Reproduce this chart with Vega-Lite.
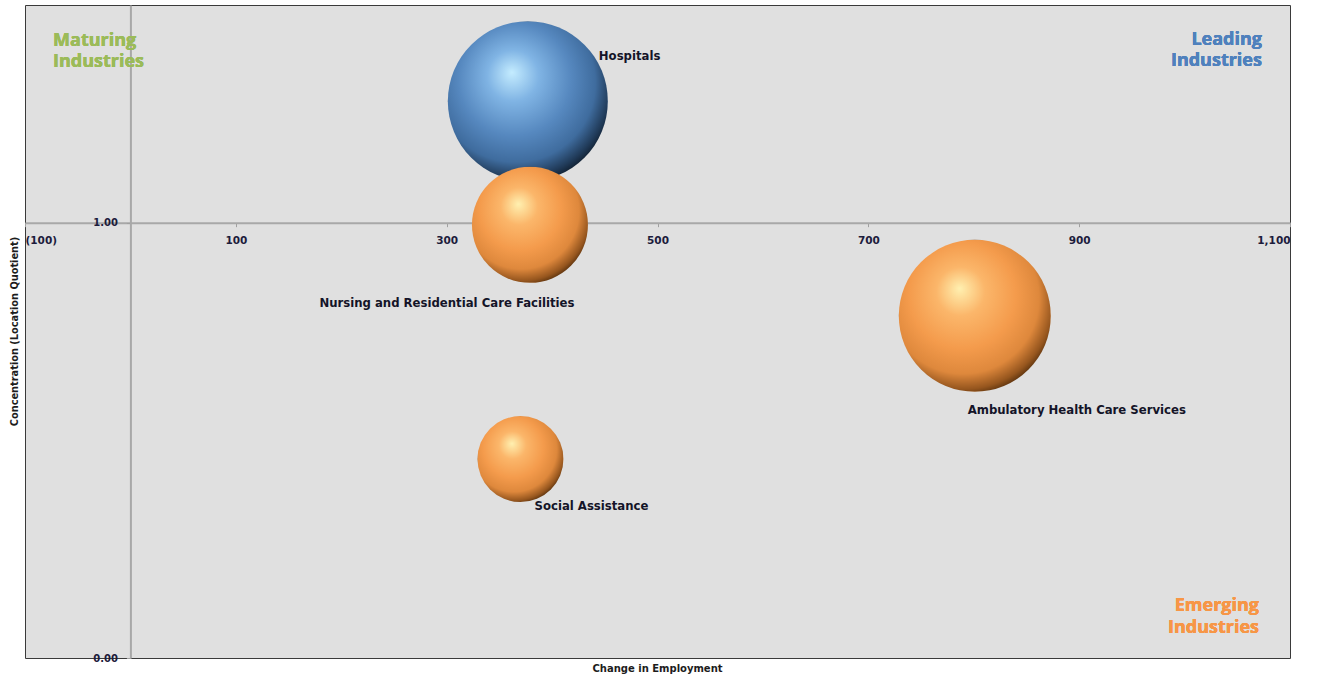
{
  "$schema": "https://vega.github.io/schema/vega-lite/v6.json",
  "width": 1265,
  "height": 653,
  "autosize": {"type": "none"},
  "padding": {"left": 25, "top": 5, "right": 27, "bottom": 21},
  "background": "#ffffff",
  "config": {
    "view": {"fill": "#e0e0e0", "stroke": "#3a3a3a", "strokeWidth": 1},
    "font": "DejaVu Sans"
  },
  "data": {
    "values": [
      {"industry": "Hospitals", "change": 377, "lq": 1.279, "employment": 6400, "quadrant": "Leading"},
      {"industry": "Nursing and Residential Care Facilities", "change": 379, "lq": 0.995, "employment": 3364, "quadrant": "Emerging"},
      {"industry": "Ambulatory Health Care Services", "change": 801, "lq": 0.786, "employment": 5776, "quadrant": "Emerging"},
      {"industry": "Social Assistance", "change": 370, "lq": 0.457, "employment": 1849, "quadrant": "Emerging"}
    ]
  },
  "encoding": {
    "x": {
      "field": "change", "type": "quantitative",
      "scale": {"domain": [-100, 1100], "nice": false, "zero": false},
      "axis": {
        "title": "Change in Employment",
        "values": [-100, 100, 300, 500, 700, 900, 1100],
        "labelExpr": "datum.value < 0 ? '(' + format(-datum.value, ',') + ')' : format(datum.value, ',')",
        "offset": -435.33,
        "grid": false,
        "domainColor": "#a8a8a8", "domainWidth": 2,
        "tickColor": "#a0a0a0", "tickSize": 4,
        "labelFont": "DejaVu Sans", "labelFontWeight": "bold", "labelFontSize": 10.5,
        "labelColor": "#1c1c3c", "labelPadding": 9,
        "titleFont": "DejaVu Sans", "titleFontWeight": "bold", "titleFontSize": 10,
        "titleColor": "#1c1c1c",
        "titleX": 632, "titleY": 446, "titleBaseline": "middle", "titleAnchor": null
      }
    },
    "y": {
      "field": "lq", "type": "quantitative",
      "scale": {"domain": [0, 1.5], "nice": false, "zero": true},
      "axis": {
        "title": "Concentration (Location Quotient)",
        "values": [0, 1],
        "format": ".2f",
        "offset": -105.4,
        "grid": false,
        "domainColor": "#a8a8a8", "domainWidth": 2,
        "tickColor": "#a0a0a0", "tickSize": 4,
        "labelFont": "DejaVu Sans", "labelFontWeight": "bold", "labelFontSize": 10,
        "labelColor": "#1c1c3c", "labelPadding": 9,
        "titleFont": "DejaVu Sans", "titleFontWeight": "bold", "titleFontSize": 9.8,
        "titleColor": "#1c1c1c",
        "titleX": -116, "titleY": 326, "titleAngle": -90, "titleBaseline": "middle", "titleAlign": "center"
      }
    }
  },
  "layer": [
    {
      "transform": [{"filter": "datum.quadrant === 'Leading'"}],
      "mark": {
        "type": "circle", "opacity": 1,
        "color": {
          "gradient": "radial", "x1": 0.4, "y1": 0.32, "r1": 0, "x2": 0.43, "y2": 0.4, "r2": 0.64,
          "stops": [
            {"offset": 0, "color": "#c4ecff"},
            {"offset": 0.25, "color": "#80b4e4"},
            {"offset": 0.55, "color": "#5688bf"},
            {"offset": 0.78, "color": "#3f6c9e"},
            {"offset": 0.92, "color": "#203a58"},
            {"offset": 1, "color": "#0e1a28"}
          ]
        }
      },
      "encoding": {
        "size": {"field": "employment", "type": "quantitative", "legend": null,
          "scale": {"domain": [0, 6400], "range": [0, 25600], "zero": true}}
      }
    },
    {
      "transform": [{"filter": "datum.quadrant === 'Emerging'"}],
      "mark": {
        "type": "circle", "opacity": 1,
        "color": {
          "gradient": "radial", "x1": 0.4, "y1": 0.32, "r1": 0, "x2": 0.43, "y2": 0.4, "r2": 0.64,
          "stops": [
            {"offset": 0, "color": "#fff0b0"},
            {"offset": 0.25, "color": "#fbb66a"},
            {"offset": 0.55, "color": "#f49b4c"},
            {"offset": 0.78, "color": "#de883c"},
            {"offset": 0.92, "color": "#96561e"},
            {"offset": 1, "color": "#4e2a0a"}
          ]
        }
      },
      "encoding": {
        "size": {"field": "employment", "type": "quantitative", "legend": null,
          "scale": {"domain": [0, 6400], "range": [0, 25600], "zero": true}}
      }
    },
    {
      "transform": [{"filter": "datum.industry === 'Hospitals'"}],
      "mark": {"type": "text", "align": "left", "baseline": "middle", "dx": 71, "dy": -45,
        "font": "DejaVu Sans", "fontWeight": "bold", "fontSize": 11.7, "color": "#141428"},
      "encoding": {"text": {"field": "industry"}}
    },
    {
      "transform": [{"filter": "datum.industry === 'Nursing and Residential Care Facilities'"}],
      "mark": {"type": "text", "align": "center", "baseline": "middle", "dx": -83, "dy": 78,
        "font": "DejaVu Sans", "fontWeight": "bold", "fontSize": 11.7, "color": "#141428"},
      "encoding": {"text": {"field": "industry"}}
    },
    {
      "transform": [{"filter": "datum.industry === 'Ambulatory Health Care Services'"}],
      "mark": {"type": "text", "align": "center", "baseline": "middle", "dx": 102, "dy": 94,
        "font": "DejaVu Sans", "fontWeight": "bold", "fontSize": 11.7, "color": "#141428"},
      "encoding": {"text": {"field": "industry"}}
    },
    {
      "transform": [{"filter": "datum.industry === 'Social Assistance'"}],
      "mark": {"type": "text", "align": "center", "baseline": "middle", "dx": 71, "dy": 47,
        "font": "DejaVu Sans", "fontWeight": "bold", "fontSize": 11.7, "color": "#141428"},
      "encoding": {"text": {"field": "industry"}}
    },
    {
      "mark": {"type": "text", "align": "left", "baseline": "alphabetic", "lineBreak": "\n", "lineHeight": 21,
        "font": "Open Sans", "fontWeight": "bold", "fontSize": 18, "color": "#9bbb59"},
      "encoding": {
        "x": {"datum": -73.4, "type": "quantitative"},
        "y": {"datum": 1.406, "type": "quantitative"},
        "text": {"value": "Maturing\nIndustries"}
      }
    },
    {
      "mark": {"type": "text", "align": "right", "baseline": "alphabetic", "lineBreak": "\n", "lineHeight": 21,
        "font": "Open Sans", "fontWeight": "bold", "fontSize": 18, "color": "#4f81bd"},
      "encoding": {
        "x": {"datum": 1073.4, "type": "quantitative"},
        "y": {"datum": 1.408, "type": "quantitative"},
        "text": {"value": "Leading\nIndustries"}
      }
    },
    {
      "mark": {"type": "text", "align": "right", "baseline": "alphabetic", "lineBreak": "\n", "lineHeight": 22,
        "font": "Open Sans", "fontWeight": "bold", "fontSize": 18, "color": "#f79646"},
      "encoding": {
        "x": {"datum": 1070.6, "type": "quantitative"},
        "y": {"datum": 0.108, "type": "quantitative"},
        "text": {"value": "Emerging\nIndustries"}
      }
    }
  ]
}
